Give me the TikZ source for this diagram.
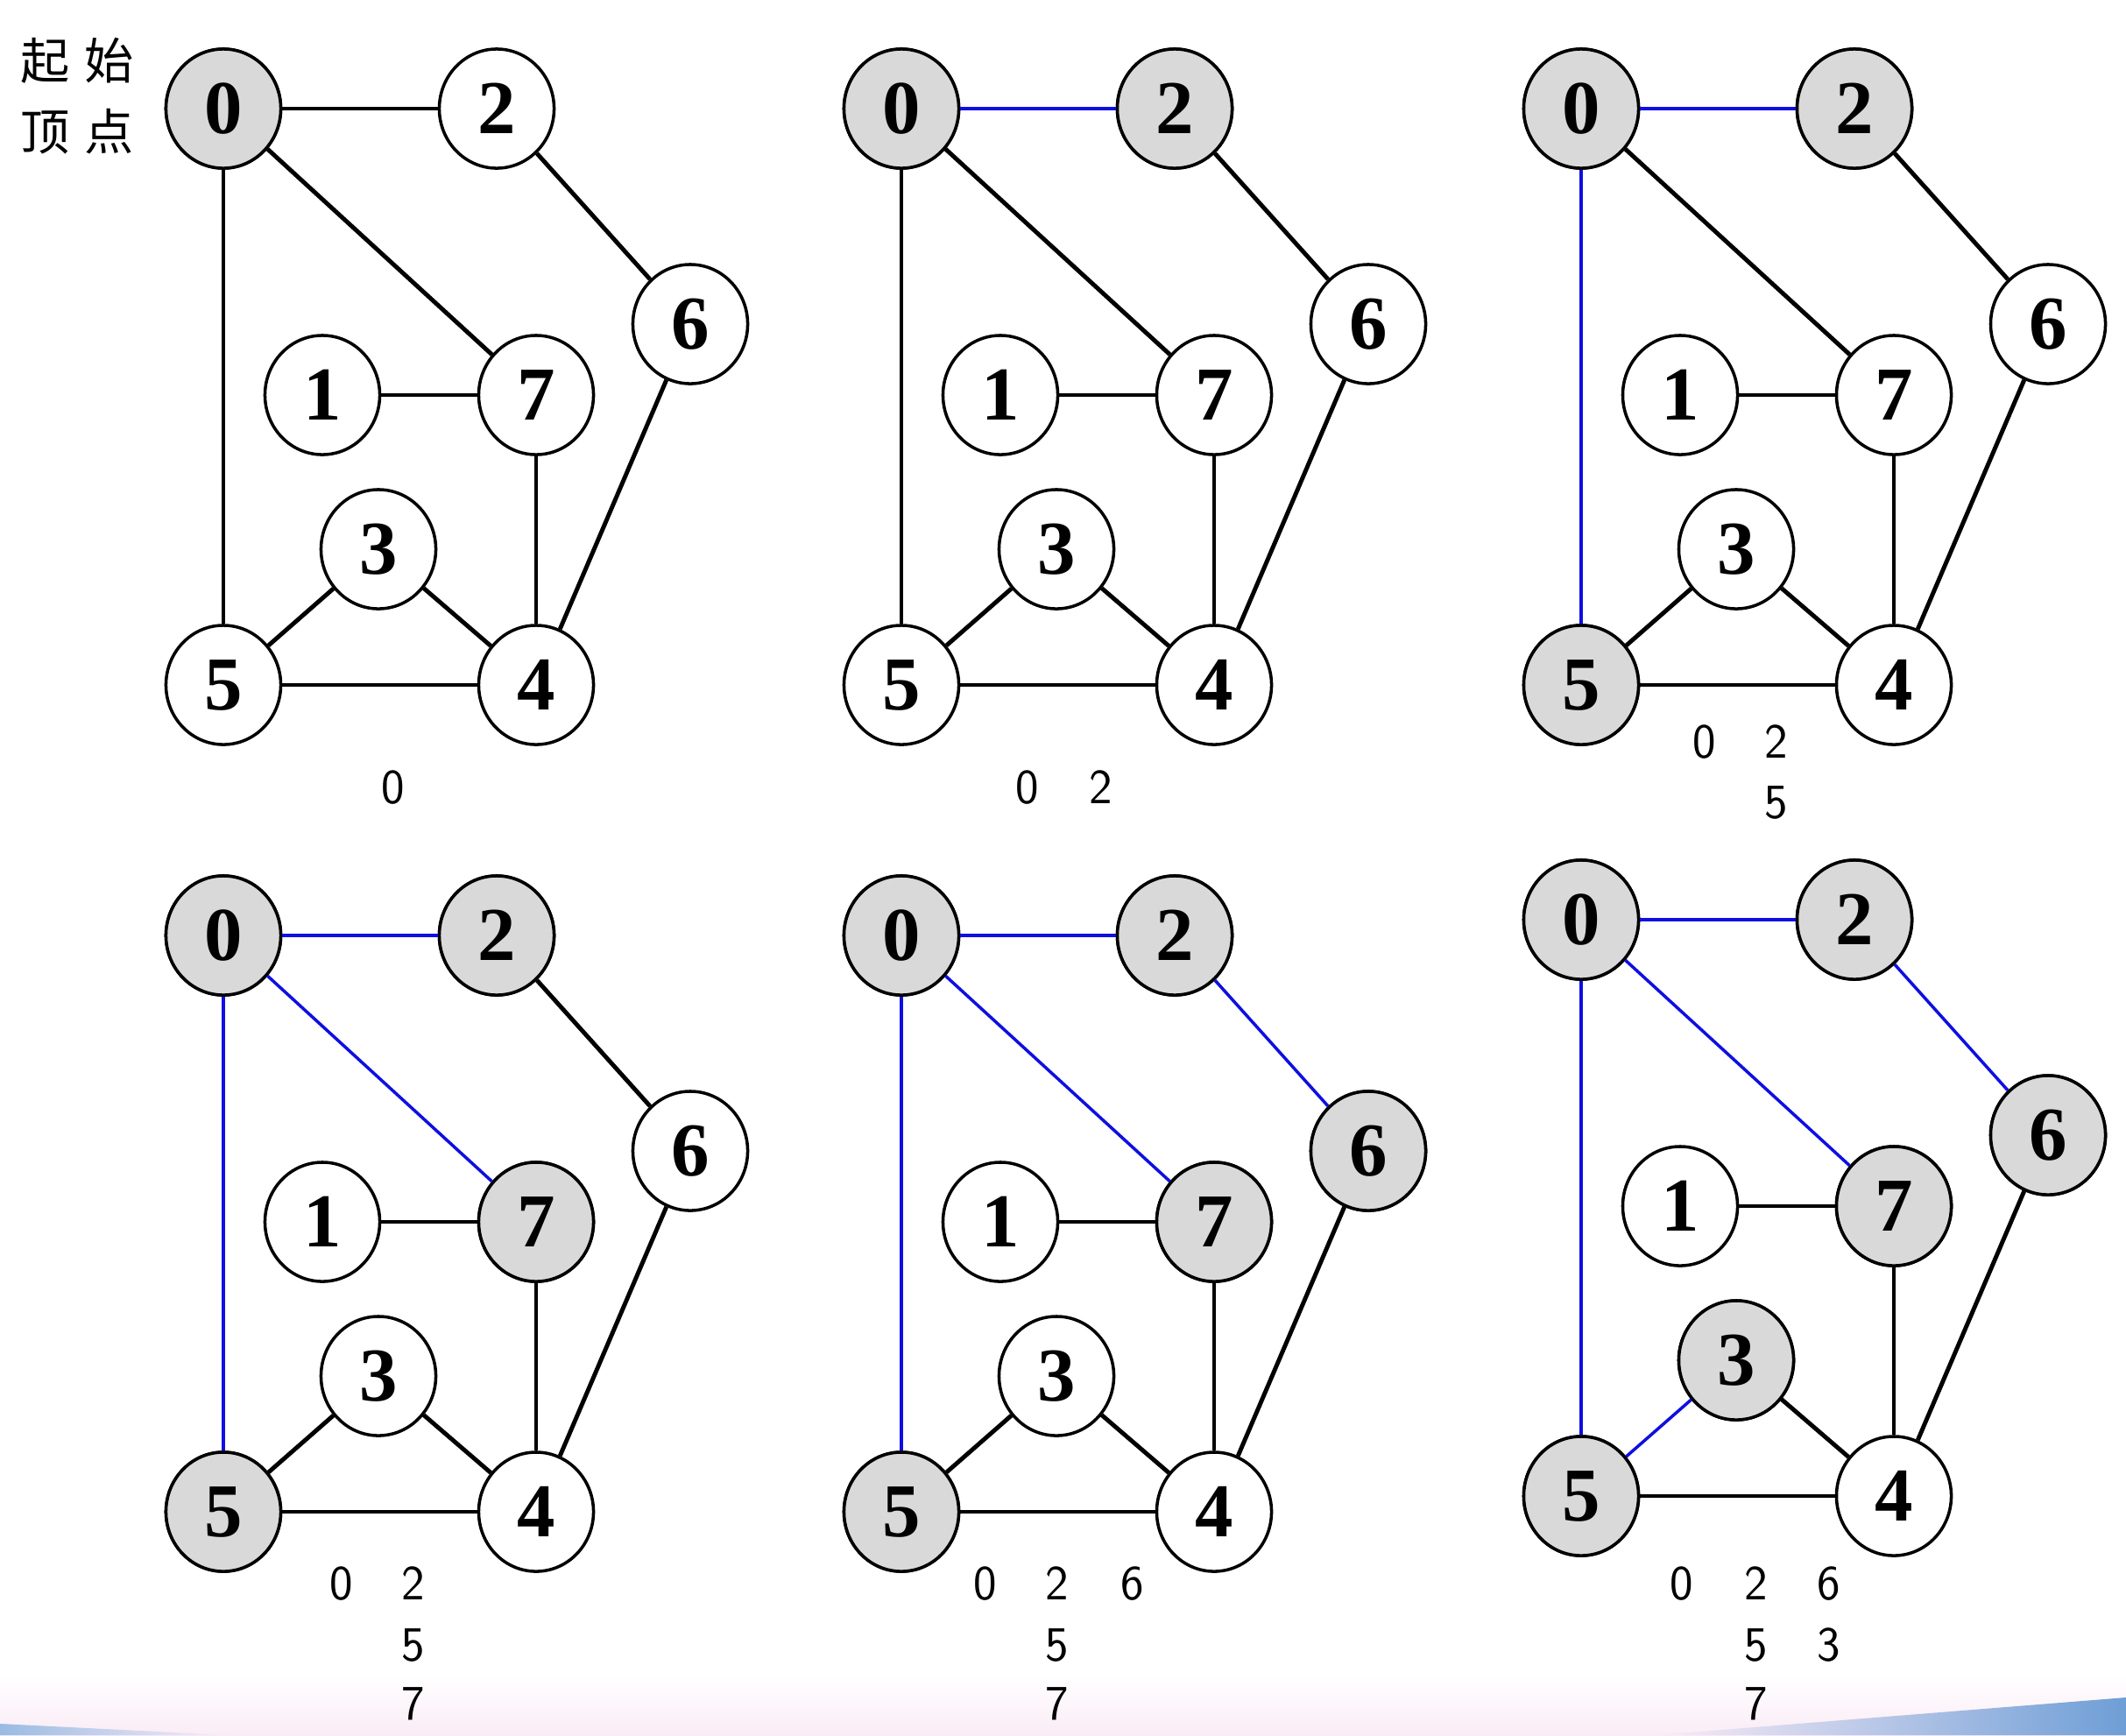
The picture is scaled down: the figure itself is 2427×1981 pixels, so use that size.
\documentclass[tikz,border=0pt]{standalone}
\usepackage{fontspec}
\usetikzlibrary{shapes.geometric}
\newfontfamily\numfont{Liberation Serif}
\newfontfamily\cjkfont{Noto Sans CJK SC}
\definecolor{visitgray}{RGB}{217,217,217}
\definecolor{treeblue}{RGB}{15,15,225}
\definecolor{stripink}{RGB}{250,236,246}
\definecolor{wedgeblue}{RGB}{110,158,214}
\tikzset{
  vertex/.style={ellipse, draw, line width=1pt, fill=white, minimum width=1.31cm,
    minimum height=1.36cm, inner sep=0pt, font=\fontsize{24.7}{28}\numfont\bfseries},
  link/.style={line width=1.4pt},
  treelink/.style={draw=treeblue, line width=1pt},
  queue/.style={inner sep=0pt, font=\fontsize{16}{19}\sffamily},
  startlabel/.style={inner sep=0pt, align=center, font=\fontsize{16}{23}\cjkfont},
}
% one step of the search: prefix, shift, visited vertices, edges with their style
\newcommand{\bfsgraph}[4]{%
  \begin{scope}[shift={(#2)}]
    \foreach \v/\px/\py in {0/255/124, 2/567/124, 6/788/370, 1/368/451,
                             7/612/451, 3/432/627, 5/255/782, 4/612/782}
      \node[vertex] (#1\v) at (\px,\py) {\v};
    \foreach \v in {#3}
      \node[vertex, fill=visitgray] (#1\v) at (#1\v) {\v};
    \foreach \a/\b/\s in {#4}
      \draw[\s] (#1\a) -- (#1\b);
  \end{scope}}
\begin{document}
\begin{tikzpicture}[x=0.01cm, y=-0.01cm]
  \useasboundingbox (0,0) rectangle (2427,1981);
  \fill[white] (0,0) rectangle (2427,1981);
  % slide strip at the bottom
  \shade[top color=white, bottom color=stripink] (0,1912) rectangle (2427,1981);
  \shade[left color=stripink, right color=wedgeblue] (1890,1981) -- (2427,1938) -- (2427,1981) -- cycle;
  \shade[left color=wedgeblue!70!white, right color=stripink] (0,1968) -- (260,1981) -- (0,1981) -- cycle;

  \node[startlabel] (start) at (88,110) {起\hspace{0.3em}始\\顶\hspace{0.3em}点};

  % top row
  \bfsgraph{a}{0,0}{0}{0/2/link, 0/7/link, 0/5/link, 2/6/link, 1/7/link,
    7/4/link, 6/4/link, 3/5/link, 3/4/link, 5/4/link}
  \bfsgraph{b}{774,0}{0,2}{0/2/treelink, 0/7/link, 0/5/link, 2/6/link, 1/7/link,
    7/4/link, 6/4/link, 3/5/link, 3/4/link, 5/4/link}
  \bfsgraph{c}{1550,0}{0,2,5}{0/2/treelink, 0/7/link, 0/5/treelink, 2/6/link, 1/7/link,
    7/4/link, 6/4/link, 3/5/link, 3/4/link, 5/4/link}
  % bottom row
  \bfsgraph{d}{0,944}{0,2,5,7}{0/2/treelink, 0/7/treelink, 0/5/treelink, 2/6/link, 1/7/link,
    7/4/link, 6/4/link, 3/5/link, 3/4/link, 5/4/link}
  \bfsgraph{e}{774,944}{0,2,5,7,6}{0/2/treelink, 0/7/treelink, 0/5/treelink, 2/6/treelink, 1/7/link,
    7/4/link, 6/4/link, 3/5/link, 3/4/link, 5/4/link}
  \bfsgraph{f}{1550,926}{0,2,5,7,6,3}{0/2/treelink, 0/7/treelink, 0/5/treelink, 2/6/treelink, 1/7/link,
    7/4/link, 6/4/link, 3/5/treelink, 3/4/link, 5/4/link}

  % visiting order under each step
  \node[queue] (qa0) at (449,899) {0};
  \node[queue] (qb0) at (1173,899) {0};
  \node[queue] (qb2) at (1257,899) {2};
  \node[queue] (qc0) at (1946,847) {0};
  \node[queue] (qc2) at (2028,847) {2};
  \node[queue] (qc5) at (2028,916) {5};
  \node[queue] (qd0) at (390,1808) {0};
  \node[queue] (qd2) at (472,1808) {2};
  \node[queue] (qd5) at (472,1878) {5};
  \node[queue] (qd7) at (472,1945) {7};
  \node[queue] (qe0) at (1125,1808) {0};
  \node[queue] (qe2) at (1207,1808) {2};
  \node[queue] (qe6) at (1293,1808) {6};
  \node[queue] (qe5) at (1207,1878) {5};
  \node[queue] (qe7) at (1207,1945) {7};
  \node[queue] (qf0) at (1920,1808) {0};
  \node[queue] (qf2) at (2005,1808) {2};
  \node[queue] (qf6) at (2088,1808) {6};
  \node[queue] (qf5) at (2005,1878) {5};
  \node[queue] (qf3) at (2088,1878) {3};
  \node[queue] (qf7) at (2005,1945) {7};
\end{tikzpicture}
\end{document}
